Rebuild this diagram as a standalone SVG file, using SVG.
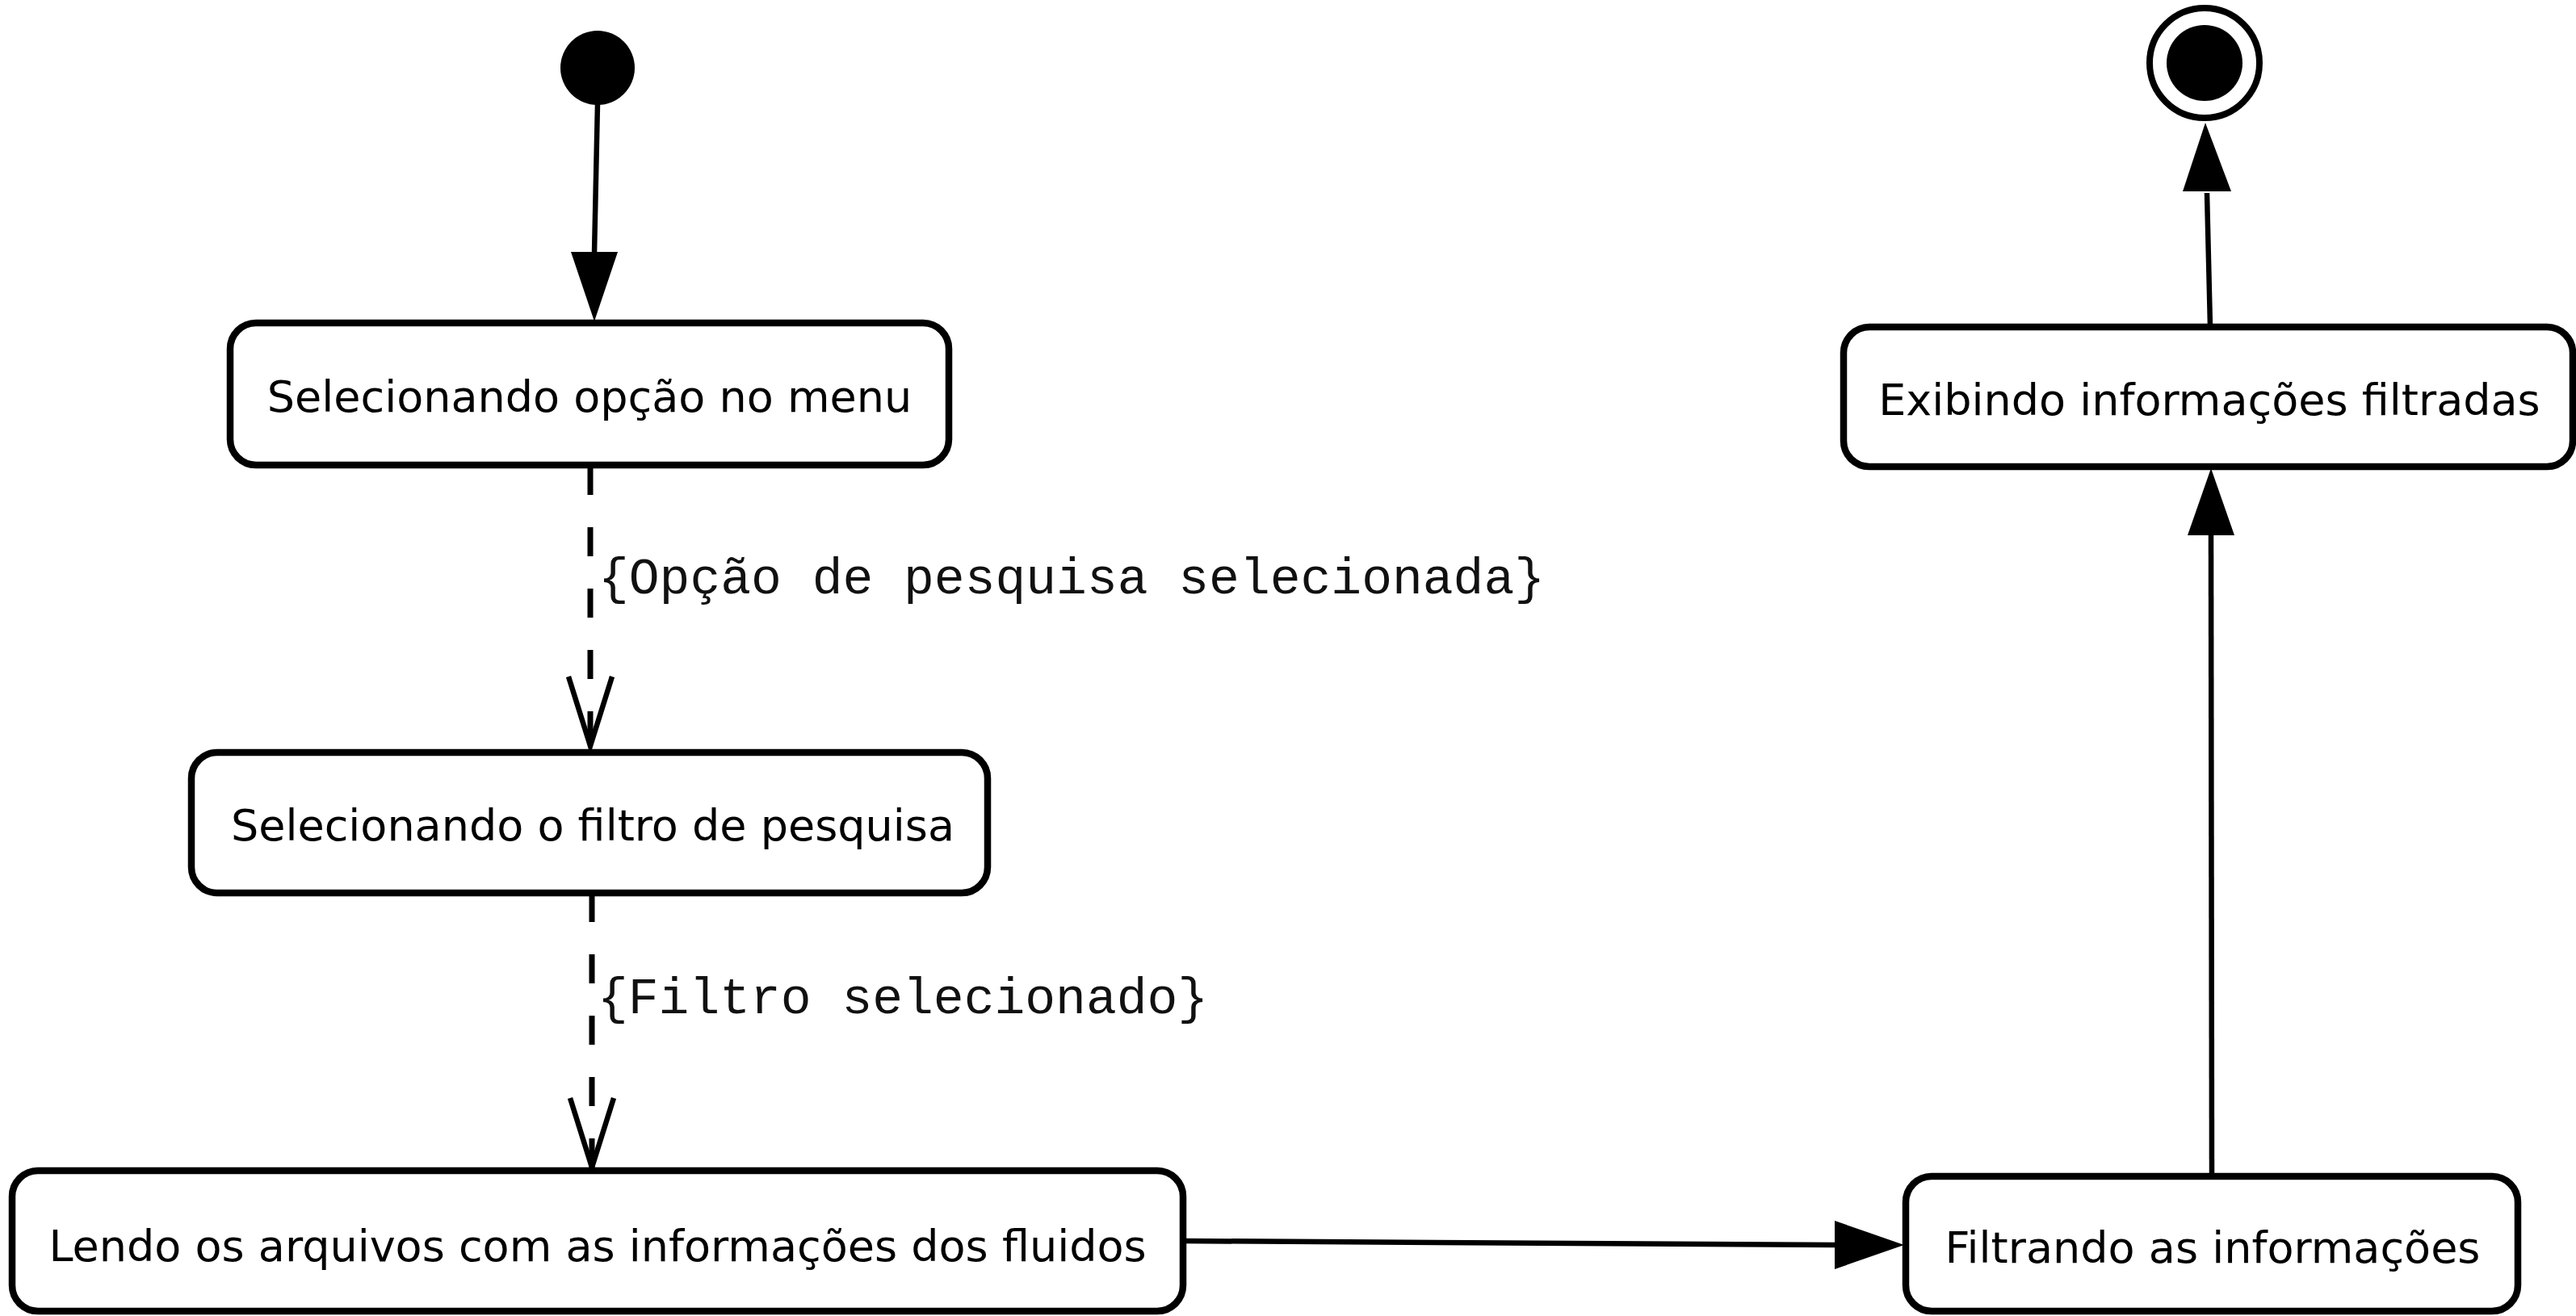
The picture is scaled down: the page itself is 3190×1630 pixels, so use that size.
<svg xmlns="http://www.w3.org/2000/svg" width="3190" height="1630" viewBox="0 0 3190 1630">
  <style>
    .box { fill: #ffffff; stroke: #000000; stroke-width: 8.5; }
    .lbl { font-family: "DejaVu Sans", Verdana, sans-serif; font-size: 54px; fill: #000000; text-anchor: middle; }
    .guard { font-family: "Liberation Mono", "Courier New", monospace; font-size: 63px; fill: #111111; }
    .edge { fill: none; stroke: #000000; stroke-width: 6.5; }
    .dash { fill: none; stroke: #000000; stroke-width: 7; stroke-dasharray: 36 40; }
    .open { fill: none; stroke: #000000; stroke-width: 6.5; stroke-linejoin: miter; }
    .head { fill: #000000; stroke: none; }
  </style>
  <rect width="3190" height="1630" fill="#ffffff"/>

  <g id="connectors">
    <line class="edge" x1="740" y1="128" x2="736" y2="314"/>
    <polygon class="head" points="707,312 765,312 736,398"/>

    <line class="dash" x1="731" y1="577" x2="731" y2="925"/>
    <polyline class="open" points="704,838 731,924 758,838"/>
    <text class="guard" x="741" y="735">{Opção de pesquisa selecionada}</text>

    <line class="dash" x1="733" y1="1106" x2="733" y2="1447"/>
    <polyline class="open" points="706,1360 733,1446 760,1360"/>
    <text class="guard" x="740" y="1255">{Filtro selecionado}</text>

    <line class="edge" x1="1465" y1="1537" x2="2274" y2="1542"/>
    <polygon class="head" points="2272,1512 2272,1572 2358,1542"/>

    <line class="edge" x1="2739" y1="1457" x2="2738" y2="661"/>
    <polygon class="head" points="2709,663 2767,663 2738,580"/>

    <line class="edge" x1="2737" y1="405" x2="2733" y2="239"/>
    <polygon class="head" points="2703,237 2763,237 2731,152"/>
  </g>

  <g id="start">
    <circle cx="740" cy="84" r="46" fill="#000000"/>
  </g>

  <g id="end">
    <circle cx="2730" cy="78" r="68" fill="#ffffff" stroke="#000000" stroke-width="8"/>
    <circle cx="2730" cy="78" r="47" fill="#000000"/>
  </g>

  <g id="n1">
    <rect class="box" x="285" y="400" width="890" height="176" rx="32" ry="32"/>
    <text class="lbl" x="730" y="510">Selecionando opção no menu</text>
  </g>

  <g id="n2">
    <rect class="box" x="237" y="932" width="986" height="174" rx="32" ry="32"/>
    <text class="lbl" x="734" y="1041">Selecionando o filtro de pesquisa</text>
  </g>

  <g id="n3">
    <rect class="box" x="15" y="1450" width="1450" height="174" rx="32" ry="32"/>
    <text class="lbl" x="740" y="1562">Lendo os arquivos com as informações dos fluidos</text>
  </g>

  <g id="n4">
    <rect class="box" x="2360" y="1457" width="758" height="167" rx="32" ry="32"/>
    <text class="lbl" x="2740" y="1564">Filtrando as informações</text>
  </g>

  <g id="n5">
    <rect class="box" x="2283" y="405" width="903" height="173" rx="32" ry="32"/>
    <text class="lbl" x="2736" y="514">Exibindo informações filtradas</text>
  </g>
</svg>
